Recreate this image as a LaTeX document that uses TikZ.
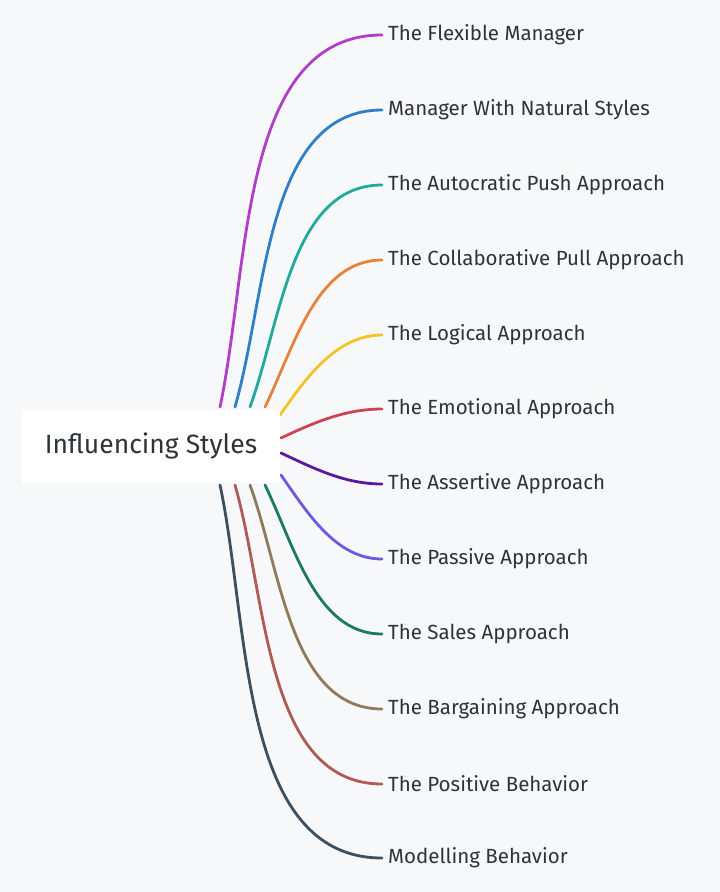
\documentclass[tikz,border=0pt]{standalone}
\usepackage{fontspec}
\setmainfont{Fira Sans}
\usetikzlibrary{positioning}
\definecolor{bgcol}{HTML}{F7F8FA}
\definecolor{txtcol}{HTML}{2E3338}
\tikzset{
  branch/.style={line width=2.8pt, line cap=round},
  leaf/.style={anchor=west, inner sep=0pt, text=txtcol, font=\fontsize{20.5}{22}\selectfont},
  root/.style={fill=white, text=txtcol, minimum width=258pt, minimum height=73pt, inner sep=0pt, font=\fontsize{26.5}{30}\selectfont}
}
\begin{document}
\begin{tikzpicture}[x=1pt, y=-1pt]
  \fill[bgcol] (0,0) rectangle (720,892);
  \useasboundingbox (0,0) rectangle (720,892);

  % branches: start x / start y / leaf y / colour / out angle / label
  \foreach \sx/\sy/\ly/\col/\ang/\lab [count=\i] in {
      220/407/35/B03FC8/78/The Flexible Manager,
      235/407/110/2F7FC8/74/Manager With Natural Styles,
      250/407/185/21A99A/70/The Autocratic Push Approach,
      265/407/260/E8823A/64/The Collaborative Pull Approach,
      280/415/335/F2C428/55/The Logical Approach,
      281/438/409/CC4455/25/The Emotional Approach,
      281/453/484/5B1A9E/-25/The Assertive Approach,
      281/475/559/6B5BE0/-55/The Passive Approach,
      265/485/634/1E7A5E/-64/The Sales Approach,
      250/485/709/8E7B5A/-70/The Bargaining Approach,
      235/485/784/B05A55/-74/The Positive Behavior,
      220/485/858/3D4F5E/-78/Modelling Behavior} {
    \definecolor{bc}{HTML}{\col}
    \coordinate (s\i) at (\sx,\sy);
    \node[leaf] (l\i) at (388,\ly) {\lab};
    \draw[branch, bc] (s\i) to[out=\ang, in=180, looseness=0.9] ([xshift=-6pt]l\i.west);
  }

  \node[root] (root) at (151,446) {Influencing Styles};
\end{tikzpicture}
\end{document}
